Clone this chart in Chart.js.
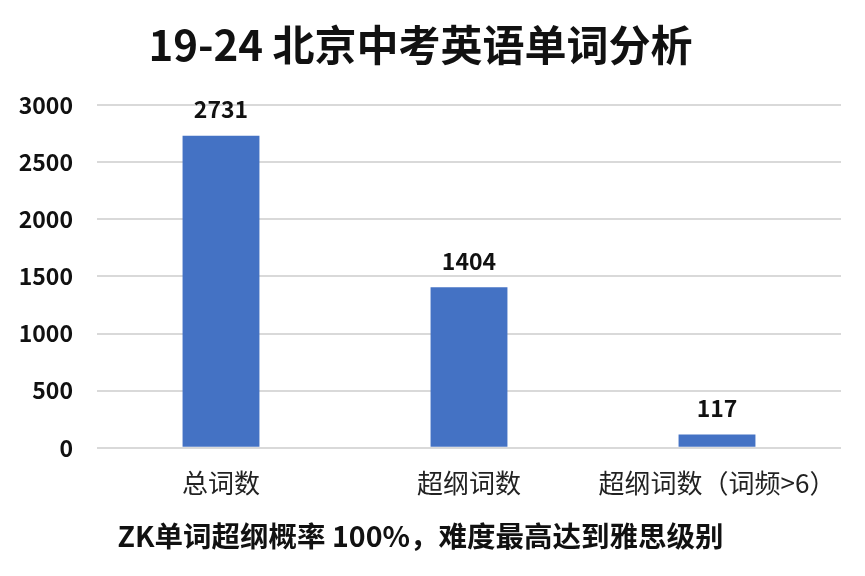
<!DOCTYPE html>
<html>
<head>
<meta charset="utf-8">
<script src="https://cdn.jsdelivr.net/npm/chart.js@4"></script>
<style>
  html, body { margin: 0; padding: 0; background: #fff; }
  #wrap { width: 865px; height: 576px; }
</style>
</head>
<body>
<div id="wrap"><canvas id="barChart"></canvas></div>
<script>
// 数据
const categories = ['总词数', '超纲词数', '超纲词数（词频>6）'];
const wordCounts = [2731, 1404, 117];
const yTicks = [0, 500, 1000, 1500, 2000, 2500, 3000];

const FONT = "'Noto Sans CJK SC', 'Noto Sans', sans-serif";

// 柱子上方的数值
const valueLabels = {
    id: 'valueLabels',
    afterDatasetsDraw(chart) {
        const ctx = chart.ctx;
        const meta = chart.getDatasetMeta(0);
        ctx.save();
        ctx.font = `bold 23px ${FONT}`;
        ctx.fillStyle = '#111';
        ctx.textAlign = 'center';
        ctx.textBaseline = 'middle';
        meta.data.forEach((bar, i) => {
            ctx.fillText(String(wordCounts[i]), bar.x, bar.y - 26);
        });
        ctx.restore();
    }
};

new Chart(document.getElementById('barChart'), {
    type: 'bar',
    data: {
        labels: categories,
        datasets: [{
            data: wordCounts,
            backgroundColor: '#4472C4',
            categoryPercentage: 1,
            barPercentage: 0.31
        }]
    },
    options: {
        responsive: true,
        maintainAspectRatio: false,
        animation: false,
        layout: { padding: { left: 0, right: 24, top: 0, bottom: 0 } },
        plugins: {
            legend: { display: false },
            tooltip: { enabled: false },
            title: {
                display: true,
                text: '19-24 北京中考英语单词分析',
                color: '#111',
                font: { family: FONT, size: 42, weight: 'bold', lineHeight: 1.2 },
                padding: { top: 20, bottom: 34.6 }
            },
            subtitle: {
                display: true,
                position: 'bottom',
                text: 'ZK单词超纲概率 100%，难度最高达到雅思级别',
                color: '#111',
                font: { family: FONT, size: 28.5, weight: 'bold', lineHeight: 1.2 },
                padding: { top: 9, bottom: 23 }
            }
        },
        scales: {
            x: {
                afterFit: axis => { axis.height = 62; },
                grid: { display: false },
                border: { display: false },
                ticks: {
                    color: '#222',
                    padding: 12,
                    maxRotation: 0,
                    font: { family: FONT, size: 26 }
                }
            },
            y: {
                min: 0,
                max: 3000,
                afterBuildTicks: axis => { axis.ticks = yTicks.map(v => ({ value: v })); },
                afterFit: axis => { axis.width = 97; },
                grid: { color: '#d9d9d9', lineWidth: 2, drawTicks: false },
                border: { display: false },
                ticks: {
                    color: '#111',
                    padding: 24,
                    callback: v => String(v),
                    font: { family: FONT, size: 23, weight: '600' }
                }
            }
        }
    },
    plugins: [valueLabels]
});
</script>
</body>
</html>
